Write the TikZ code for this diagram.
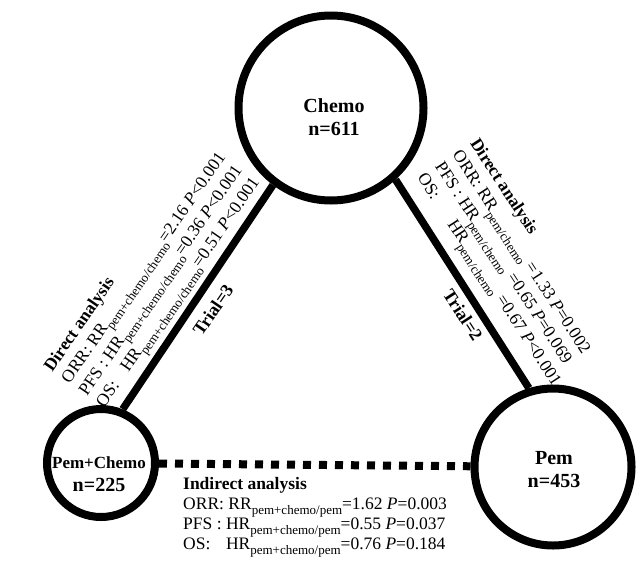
\documentclass[tikz,border=0pt]{standalone}
\usepackage{fontspec}
\setmainfont{Liberation Serif}

\newcommand{\sbx}[1]{\raisebox{-0.3em}{\fontsize{13}{13}\selectfont #1}}

\begin{document}
\begin{tikzpicture}[x=1pt,y=-1pt,
  arm/.style={circle,draw,line width=8pt,inner sep=0pt},
  armname/.style={font=\bfseries\fontsize{20}{23}\selectfont,align=center},
  stats/.style={font=\fontsize{17.5}{21}\selectfont,align=left,inner sep=0pt},
  trial/.style={font=\bfseries\fontsize{18}{20}\selectfont},
  link/.style={line width=7.5pt}]

\useasboundingbox (0,0) rectangle (636,573);

\node[arm,minimum size=185pt] (chemo)    at (331,108) {};
\node[arm,minimum size=157pt] (pem)      at (553,467) {};
\node[arm,minimum size=108pt] (pemchemo) at (101,463) {};

\node[armname] (chemolbl)    at (334,117) {Chemo\\n=611};
\node[armname] (pemlbl)      at (554,470) {Pem\\n=453};
\node[armname] (pemchemolbl) at (99,474)  {{\fontsize{17}{20}\selectfont Pem+Chemo}\\n=225};

\draw[link] (pemchemo.68) -- (chemo.233);
\draw[link] (chemo.312) -- (pem.107);
\draw[line width=8pt,dash pattern=on 8pt off 8pt] (pemchemo) -- (pem);

\node[trial,rotate=55.5] (trial3) at (213,310) {Trial=3};
\node[trial,rotate=-57]  (trial2) at (463,315) {Trial=2};

% direct analysis, pem+chemo vs chemo
\node[stats,rotate=55.5,anchor=south west] (left) at (111,413) {%
  \textbf{Direct analysis}\\
  ORR: RR\sbx{pem+chemo/chemo}=2.16 \textit{P}<0.001\\
  PFS : HR\sbx{pem+chemo/chemo}=0.36 \textit{P}<0.001\\
  \rlap{OS:}\phantom{PFS : }HR\sbx{pem+chemo/chemo}=0.51 \textit{P}<0.001};

% direct analysis, pem vs chemo
\node[stats,rotate=-57,anchor=south west] (right) at (410,182) {%
  \textbf{Direct analysis}\\
  ORR: RR\sbx{pem/chemo} =1.33 \textit{P}=0.002\\
  PFS : HR\sbx{pem/chemo} =0.65 \textit{P}=0.069\\
  \rlap{OS:}\phantom{PFS : H}HR\sbx{pem/chemo} =0.67 \textit{P}<0.001};

% indirect analysis
\node[stats,anchor=north west,font=\fontsize{17.5}{20}\selectfont] (indirect) at (183,477) {%
  \textbf{Indirect analysis}\\
  ORR: RR\sbx{pem+chemo/pem}=1.62 \textit{P}=0.003\\
  PFS : HR\sbx{pem+chemo/pem}=0.55 \textit{P}=0.037\\
  \rlap{OS:}\phantom{PFS : }HR\sbx{pem+chemo/pem}=0.76 \textit{P}=0.184};

\end{tikzpicture}
\end{document}
